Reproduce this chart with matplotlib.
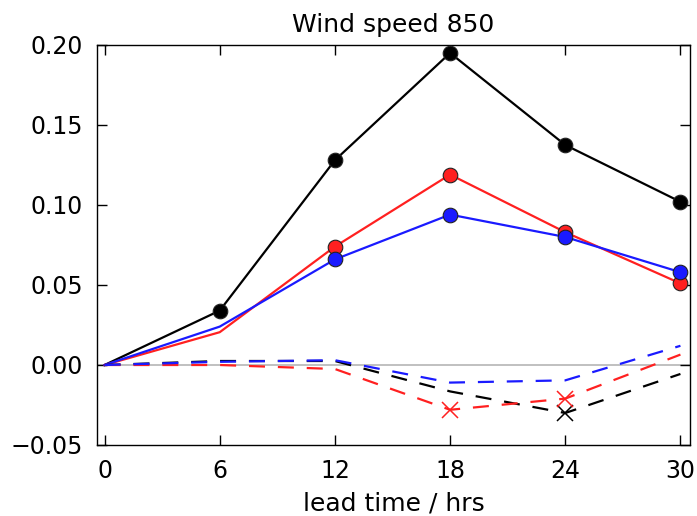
import matplotlib
matplotlib.use("Agg")
import matplotlib.pyplot as plt
import numpy as np

lead = [0, 6, 12, 18, 24, 30]
xticks = [0, 6, 12, 18, 24, 30]

black_solid = [0.0, 0.034, 0.128, 0.195, 0.1375, 0.102]
red_solid = [0.0, 0.0205, 0.074, 0.119, 0.083, 0.051]
blue_solid = [0.0, 0.024, 0.066, 0.094, 0.080, 0.058]

black_dash = [0.0, 0.0025, 0.0025, -0.0165, -0.030, -0.0056]
red_dash = [0.0, 0.0, -0.0025, -0.028, -0.021, 0.0065]
blue_dash = [0.0, 0.002, 0.003, -0.011, -0.0096, 0.012]

# marker flags (significant points)
black_solid_mk = [False, True, True, True, True, True]
red_solid_mk = [False, False, True, True, True, True]
blue_solid_mk = [False, False, True, True, True, True]
black_dash_mk = [False, False, False, False, True, False]
red_dash_mk = [False, False, False, True, True, False]

plt.rcParams['font.family'] = 'DejaVu Sans'
fig = plt.figure(figsize=(6.97, 5.16), dpi=100)
ax = fig.add_axes([0.139, 0.1376, 0.851, 0.7752])

ax.axhline(0, color='#bbbbbb', lw=1.3, zorder=1)

def plot_series(y, color, ls, mk, marker):
    ax.plot(lead, y, color=color, ls=ls, lw=1.6, zorder=2)
    xs = [l for l, m in zip(lead, mk) if m]
    ys = [v for v, m in zip(y, mk) if m]
    if marker == 'o':
        ax.plot(xs, ys, ls='none', marker='o', ms=10.5, mfc=color, mec='#222222', mew=0.8, zorder=3)
    else:
        ax.plot(xs, ys, ls='none', marker='x', ms=11, mec=color, mew=1.1, zorder=3)

dash = (0, (7.2, 5.8))
plot_series(black_solid, 'black', '-', black_solid_mk, 'o')
plot_series(red_solid, '#ff2020', '-', red_solid_mk, 'o')
plot_series(blue_solid, '#1a1aff', '-', blue_solid_mk, 'o')
plot_series(black_dash, 'black', dash, black_dash_mk, 'x')
plot_series(red_dash, '#ff2020', dash, red_dash_mk, 'x')
plot_series(blue_dash, '#1a1aff', dash, [False]*6, 'x')

ax.set_xlim(-0.4, 30.5)
ax.set_ylim(-0.05, 0.20)
ax.set_xticks(xticks)
ax.set_yticks([-0.05, 0.0, 0.05, 0.10, 0.15, 0.20])
ax.set_yticklabels(['\u22120.05', '0.00', '0.05', '0.10', '0.15', '0.20'])
ax.tick_params(direction='in', top=True, right=True, length=7, width=1, labelsize=17, pad=10)
ax.set_xlabel('lead time / hrs', fontsize=18, labelpad=6)
ax.set_title('Wind speed 850', fontsize=18, pad=9)
for s in ax.spines.values():
    s.set_linewidth(1.0)

fig.savefig('out.png', dpi=100)
